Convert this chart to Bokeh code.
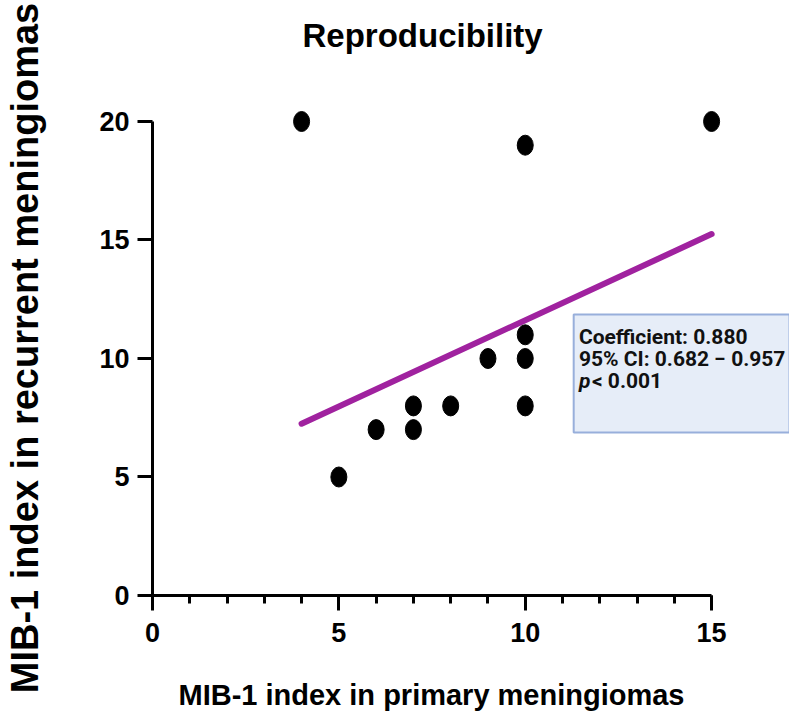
from bokeh.plotting import figure
from bokeh.models import Range1d, SingleIntervalTicker, BoxAnnotation, Label, Title, ColumnDataSource
from bokeh.embed import file_html
from bokeh.resources import INLINE

# Data
primary = [4, 5, 6, 7, 7, 8, 9, 10, 10, 10, 10, 15]
recurrent = [20, 5, 7, 7, 8, 8, 10, 8, 10, 11, 19, 20]
fit_x = [4, 15]
fit_y = [7.25, 15.25]
title_text = "Reproducibility"
x_label = "MIB-1 index in primary meningiomas"
y_label = "MIB-1 index in recurrent meningiomas"
stats_lines = ["Coefficient: 0.880", "95% CI: 0.682 \u2212 0.957"]
p_label = "p"
p_value = "< 0.001"

FONT = "Liberation Sans"

p = figure(width=789, height=711, output_backend="svg", toolbar_location=None,
           x_range=Range1d(0, 17.09), y_range=Range1d(0, 20.886),
           min_border_left=152, min_border_right=0, min_border_top=100, min_border_bottom=116)
p.background_fill_color = "white"
p.border_fill_color = "white"
p.outline_line_color = None
p.grid.visible = False

# Title (a trailing empty line lifts it away from the frame)
p.title.text = title_text + "\n"
p.title.align = "left"
p.title.offset = 150
p.title.text_font = FONT
p.title.text_font_size = "33px"
p.title.text_font_style = "bold"
p.title.text_color = "black"
p.title.standoff = 20

# X axis
xa = p.xaxis[0]
xa.ticker = SingleIntervalTicker(interval=5, num_minor_ticks=5)
xa.bounds = (0, 15)
xa.axis_line_width = 3
xa.axis_line_color = "black"
xa.major_tick_line_width = 3
xa.minor_tick_line_width = 3
xa.major_tick_out = 15
xa.major_tick_in = 0
xa.minor_tick_out = 8
xa.minor_tick_in = 0
xa.major_label_standoff = 12
xa.major_label_text_font = FONT
xa.major_label_text_font_size = "27px"
xa.major_label_text_font_style = "bold"
xa.major_label_text_color = "black"

# Y axis
ya = p.yaxis[0]
ya.ticker = SingleIntervalTicker(interval=5, num_minor_ticks=0)
ya.bounds = (0, 20)
ya.axis_line_width = 3
ya.axis_line_color = "black"
ya.major_tick_line_width = 3
ya.major_tick_out = 15
ya.major_tick_in = 0
ya.minor_tick_line_color = None
ya.major_label_standoff = 8
ya.major_label_text_font = FONT
ya.major_label_text_font_size = "27px"
ya.major_label_text_font_style = "bold"
ya.major_label_text_color = "black"
ya.axis_label = y_label
ya.axis_label_text_font = FONT
ya.axis_label_text_font_size = "38px"
ya.axis_label_text_font_style = "bold"
ya.axis_label_text_color = "black"
ya.axis_label_standoff = 50

# X label as a title below (a leading empty line pushes it down)
xt = Title(text="\n" + x_label, align="left", offset=26,
           text_font=FONT, text_font_size="29px", text_font_style="bold",
           text_color="black", standoff=0)
p.add_layout(xt, "below")

# Regression line
p.line(fit_x, fit_y, line_color="#a0229f", line_width=6, line_cap="round")

# Points
src = ColumnDataSource(dict(x=primary, y=recurrent))
p.ellipse(x="x", y="y", width=16, height=20, width_units="screen", height_units="screen",
          source=src, fill_color="black", line_color="black")

# Stats box
box = BoxAnnotation(left=11.3, right=17.09, top=11.86, bottom=6.88,
                    fill_color="#e6edf8", fill_alpha=1.0,
                    line_color="#98afdb", line_width=2, line_alpha=1.0)
p.add_layout(box)

ANN_FONT = "Roboto"
ANN_SIZE = "21px"
for i, t in enumerate(stats_lines):
    p.add_layout(Label(x=11.44, y=10.9 - i * 0.92, text=t, text_font=ANN_FONT,
                       text_font_size=ANN_SIZE, text_font_style="bold",
                       text_color="#111111", text_baseline="middle"))
p.add_layout(Label(x=11.44, y=10.9 - 2 * 0.92, text=p_label, text_font=ANN_FONT,
                   text_font_size=ANN_SIZE, text_font_style="bold italic",
                   text_color="#111111", text_baseline="middle"))
p.add_layout(Label(x=11.44, y=10.9 - 2 * 0.92, x_offset=13, text=p_value, text_font=ANN_FONT,
                   text_font_size=ANN_SIZE, text_font_style="bold",
                   text_color="#111111", text_baseline="middle"))

open("out.html", "w").write(file_html(p, INLINE))
